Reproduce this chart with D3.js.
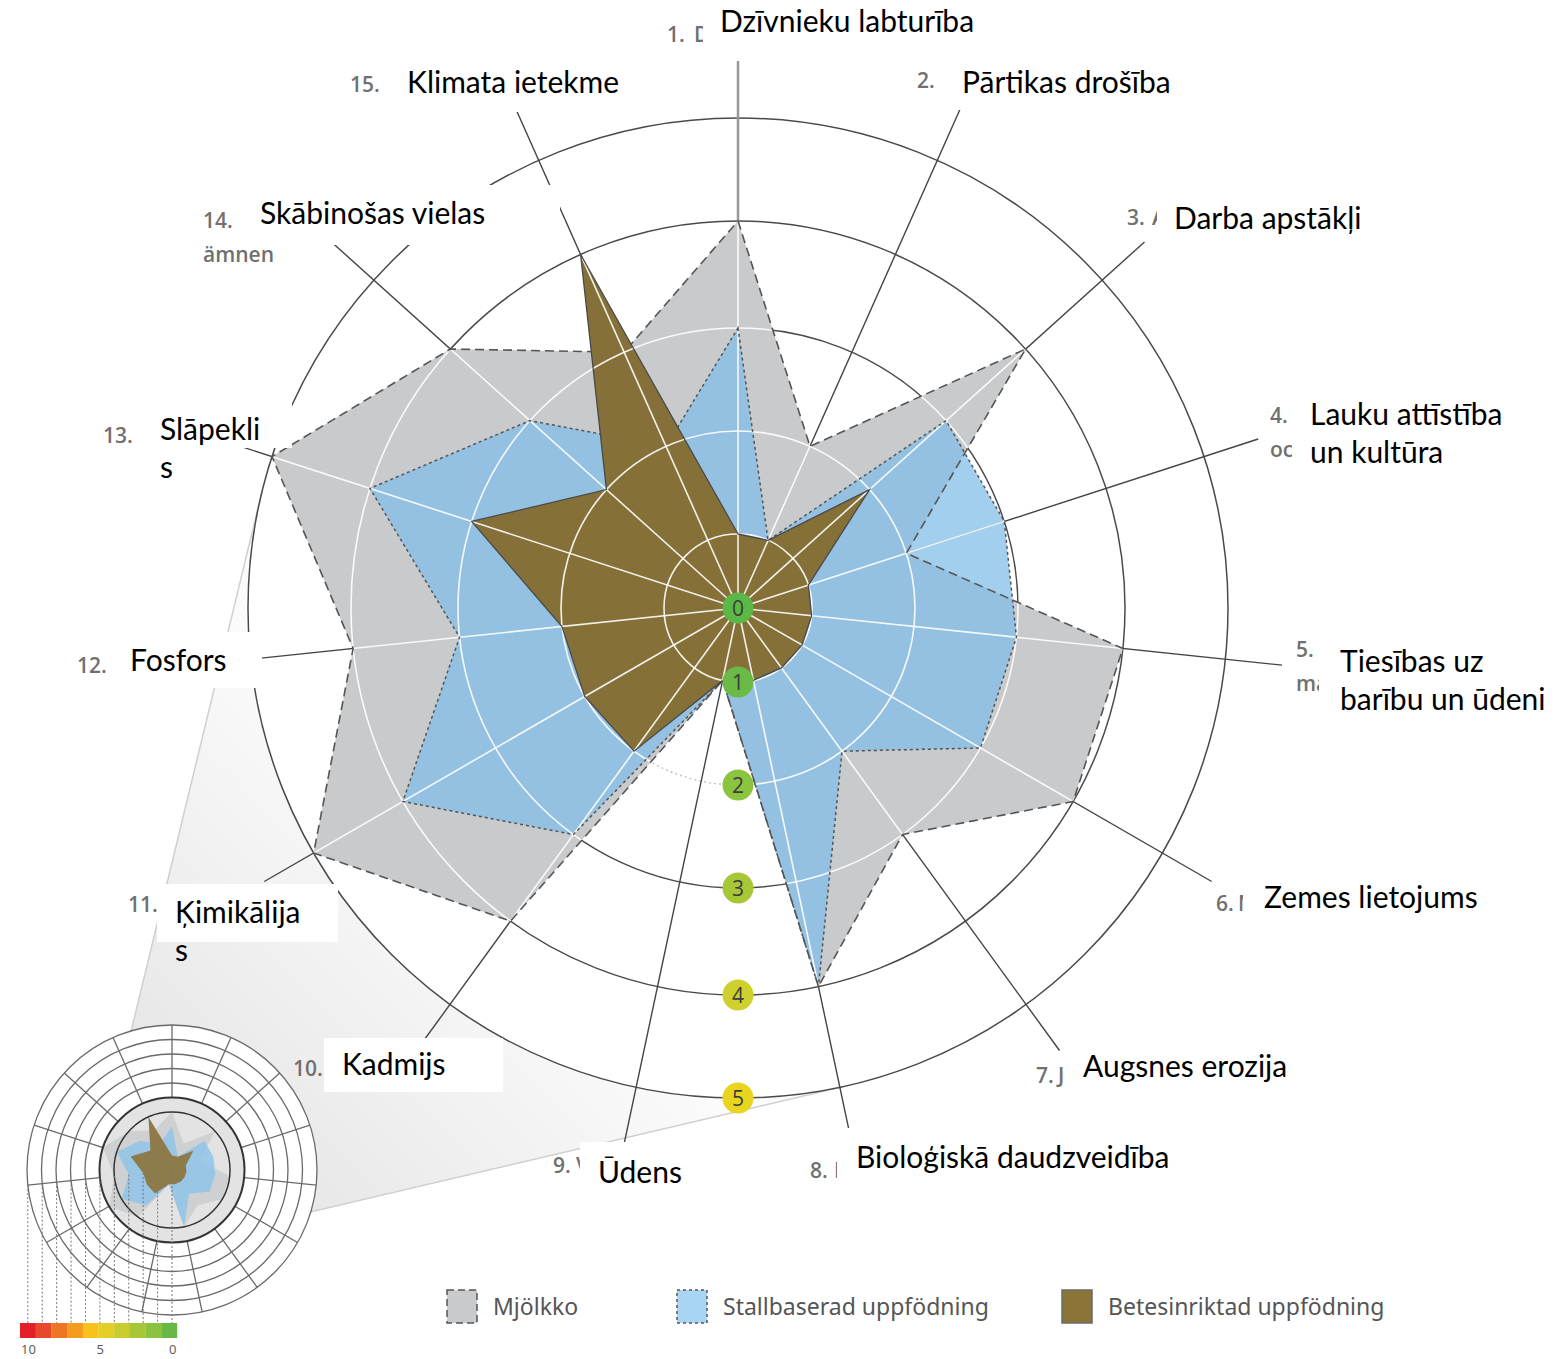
<!DOCTYPE html>
<html>
<head>
<meta charset="utf-8">
<script src="https://cdn.jsdelivr.net/npm/d3@7"></script>
<style>
body { margin: 0; background: #fff; }
svg { display: block; }
</style>
</head>
<body>
<svg id="chart" width="1557" height="1359"></svg>
<script>
// data
var axisNumbers = ["1.", "2.", "3.", "4.", "5.", "6.", "7.", "8.", "9.", "10.", "11.", "12.", "13.", "14.", "15."]
// bits of the old swedish labels that peek out from under the white boxes
var axisFragments = [["D"], [""], ["A"], ["", "oc"], ["", "ma"], ["M"], ["J"], ["B"], ["V"], [""], [""], [""], [""], ["", "ämnen"], [""]]
var axisLabels = [["Dzīvnieku labturība"], ["Pārtikas drošība"], ["Darba apstākļi"], ["Lauku attīstība", "un kultūra"],
  ["Tiesības uz", "barību un ūdeni"], ["Zemes lietojums"], ["Augsnes erozija"], ["Bioloģiskā daudzveidība"], ["Ūdens"],
  ["Kadmijs"], ["Ķimikālija", "s"], ["Fosfors"], ["Slāpekli", "s"], ["Skābinošas vielas"], ["Klimata ietekme"]]
var seriesNames = ["Mjölkko", "Stallbaserad uppfödning", "Betesinriktad uppfödning"]
var mjolkko = [4, 2, 4, 2, 4, 4, 3, 4, 1, 4, 5, 4, 5, 4, 3]
var stallbaserad = [3, 1, 3, 3, 3, 3, 2, 4, 1, 3, 4, 3, 4, 3, 2]
var betesinriktad = [1, 1, 2, 1, 1, 1, 1, 1, 1, 2, 2, 2, 3, 2, 4]
var ringTicks = [0, 1, 2, 3, 4, 5]
var scaleTicks = [10, 5, 0]

// layout
var cx = 738, cy = 608
var n = axisNumbers.length
var step = 2 * Math.PI / n
var svg = d3.select("#chart")

var r = d3.scaleLinear().domain([0, 1, 2, 3, 4, 5]).range([0, 74, 177, 280, 387, 490])
var ix = 172, iy = 1170
var ri = d3.scaleLinear().domain([0, 10]).range([0, 145])

var tickColor = d3.scaleLinear().domain([0, 1, 2, 3, 4, 5]).range(["#5cb846", "#6aba45", "#8bc43f", "#a7c739", "#cdd02d", "#e9d41f"])
var barColors = ["#e31e24", "#e8482b", "#ee7524", "#f49c20", "#f9c11c", "#e3cf27", "#c8cc2f", "#a8c637", "#8bc23e", "#68b845"]

function pt(i, rad, x0, y0) {
  return [x0 + rad * Math.sin(i * step), y0 - rad * Math.cos(i * step)]
}

// magnifier wedge between the inset and the main chart
var d = Math.hypot(ix - cx, iy - cy)
var ux = (ix - cx) / d, uy = (iy - cy) / d
var c = (r(5) - ri(5)) / d, s = Math.sqrt(1 - c * c)
var tang = [1, -1].map(function(sg) {
  var nx = c * ux + sg * s * (-uy), ny = c * uy + sg * s * ux
  return [[cx + r(5) * nx, cy + r(5) * ny], [ix + ri(5) * nx, iy + ri(5) * ny]]
})
var defs = svg.append("defs")
var grad = defs.append("linearGradient").attr("id", "wedge").attr("gradientUnits", "userSpaceOnUse")
  .attr("x1", cx).attr("y1", cy).attr("x2", ix).attr("y2", iy)
grad.append("stop").attr("offset", "0.45").attr("stop-color", "#fbfbfb")
grad.append("stop").attr("offset", "1").attr("stop-color", "#e4e4e4")
svg.append("path")
  .attr("d", "M" + tang[0][0] + "L" + tang[0][1] + "L" + tang[1][1] + "L" + tang[1][0] + "Z")
  .attr("fill", "url(#wedge)")
tang.forEach(function(t) {
  svg.append("line").attr("x1", t[0][0]).attr("y1", t[0][1]).attr("x2", t[1][0]).attr("y2", t[1][1])
    .attr("stroke", "#cfcfcf").attr("stroke-width", 1.5)
})

var g = svg.append("g").attr("transform", "translate(" + cx + "," + cy + ")")
g.append("circle").attr("r", r(5)).attr("fill", "#fff")

// dark grid under the polygons
g.append("circle").attr("r", r(2)).attr("fill", "none").attr("stroke", "#c4c4c4")
  .attr("stroke-width", 1.5).attr("stroke-dasharray", "2,3")
g.selectAll(".ring").data([3, 4, 5]).enter().append("circle")
  .attr("r", d => r(d)).attr("fill", "none").attr("stroke", "#4a4a4a").attr("stroke-width", 1.5)
g.selectAll(".spoke").data(d3.range(n)).enter().append("line")
  .attr("x2", i => pt(i, 547, 0, 0)[0]).attr("y2", i => pt(i, 547, 0, 0)[1])
  .attr("stroke", i => i == 0 ? "#999" : "#444").attr("stroke-width", i => i == 0 ? 2.5 : 1.4)

var radial = d3.lineRadial().angle((d, i) => i * step).radius(d => r(d)).curve(d3.curveLinearClosed)

var clipAll = defs.append("clipPath").attr("id", "clipAll")
;[mjolkko, stallbaserad, betesinriktad].forEach(function(v) {
  clipAll.append("path").attr("d", radial(v)).attr("transform", "translate(" + cx + "," + cy + ")")
})
defs.append("clipPath").attr("id", "clipBrown").append("path").attr("d", radial(betesinriktad))
  .attr("transform", "translate(" + cx + "," + cy + ")")

function whiteGrid(clip) {
  var wg = svg.append("g").attr("clip-path", "url(#" + clip + ")")
    .append("g").attr("transform", "translate(" + cx + "," + cy + ")")
  wg.selectAll("circle").data([1, 2, 3, 4, 5]).enter().append("circle")
    .attr("r", d => r(d)).attr("fill", "none").attr("stroke", "#fff").attr("stroke-width", 1.6).attr("opacity", 0.9)
  wg.selectAll("line").data(d3.range(n)).enter().append("line")
    .attr("x2", i => pt(i, 500, 0, 0)[0]).attr("y2", i => pt(i, 500, 0, 0)[1])
    .attr("stroke", "#fff").attr("stroke-width", 1.6).attr("opacity", 0.9)
}

g.append("path").attr("d", radial(mjolkko)).attr("fill", "#c9cacc")
g.append("path").attr("d", radial(stallbaserad)).attr("fill", "#80bde9").attr("fill-opacity", 0.72)
whiteGrid("clipAll")
var g2 = svg.append("g").attr("transform", "translate(" + cx + "," + cy + ")")
g2.append("path").attr("d", radial(mjolkko)).attr("fill", "none")
  .attr("stroke", "#555").attr("stroke-width", 1.6).attr("stroke-dasharray", "9,5")
g2.append("path").attr("d", radial(stallbaserad)).attr("fill", "none")
  .attr("stroke", "#555").attr("stroke-width", 1.5).attr("stroke-dasharray", "3,3")
g2.append("path").attr("d", radial(betesinriktad)).attr("fill", "#85713b")
whiteGrid("clipBrown")
svg.append("path").attr("d", radial(betesinriktad)).attr("transform", "translate(" + cx + "," + cy + ")")
  .attr("fill", "none").attr("stroke", "#4a4a4a").attr("stroke-width", 1.3)

// value markers along the bottom
var marks = svg.append("g").selectAll("g").data(ringTicks).enter().append("g")
  .attr("transform", d => "translate(" + cx + "," + (cy + r(d)) + ")")
marks.append("circle").attr("r", 15.5).attr("fill", d => tickColor(d))
marks.append("text").text(d => d).attr("text-anchor", "middle").attr("dy", "0.36em")
  .style("font", "21px 'Open Sans', sans-serif").attr("fill", "#3d3d3d")

// inset
var inset = svg.append("g").attr("transform", "translate(" + ix + "," + iy + ")")
inset.append("circle").attr("r", ri(10)).attr("fill", "#fff")
inset.append("circle").attr("r", ri(5)).attr("fill", "#e3e3e3")
var iradial = d3.lineRadial().angle((d, i) => i * step).radius(d => ri(d)).curve(d3.curveLinearClosed)
inset.append("path").attr("d", iradial(mjolkko)).attr("fill", "#cfd0d2")
inset.append("path").attr("d", iradial(stallbaserad)).attr("fill", "#8cc3ea").attr("fill-opacity", 0.8)
inset.append("path").attr("d", iradial(betesinriktad)).attr("fill", "#8d7b4b")
inset.selectAll(".sp").data(d3.range(n)).enter().append("line")
  .attr("x1", i => pt(i, ri(5), 0, 0)[0]).attr("y1", i => pt(i, ri(5), 0, 0)[1])
  .attr("x2", i => pt(i, ri(10), 0, 0)[0]).attr("y2", i => pt(i, ri(10), 0, 0)[1])
  .attr("stroke", "#6a6a6a").attr("stroke-width", 1.3)
inset.selectAll(".rg").data([6, 7, 8, 9, 10]).enter().append("circle")
  .attr("r", d => ri(d)).attr("fill", "none").attr("stroke", "#6a6a6a").attr("stroke-width", 1.3)
inset.selectAll(".rd").data([4, 5]).enter().append("circle")
  .attr("r", d => ri(d)).attr("fill", "none").attr("stroke", "#333").attr("stroke-width", d => d == 5 ? 2 : 1.5)

// dashed drop lines to the colour scale
var bar = d3.scaleLinear().domain([10, 0]).range([28, 173])
inset.selectAll(".drop").data(d3.range(11)).enter().append("line")
  .attr("x1", k => pt(11, ri(k), 0, 0)[0]).attr("y1", k => pt(11, ri(k), 0, 0)[1])
  .attr("x2", k => pt(11, ri(k), 0, 0)[0]).attr("y2", 1323 - iy)
  .attr("stroke", "#777").attr("stroke-width", 1).attr("stroke-dasharray", "2,2")
svg.append("g").selectAll("rect").data(barColors).enter().append("rect")
  .attr("x", (c, k) => 20 + k * 15.7).attr("y", 1323).attr("width", 15.9).attr("height", 15).attr("fill", c => c)
svg.append("g").selectAll("text").data(scaleTicks).enter().append("text")
  .attr("x", v => v == 10 ? 21 : bar(v) - 4).attr("y", 1354).text(v => v)
  .style("font", "13px 'Open Sans', sans-serif").attr("fill", "#555")

// axis labels: grey number, white box, latvian text
var labelPos = [
  {nx: 667, ny: 42, cut: 9, tx: 720, ty: 32, box: [703, 0, 995, 55]},
  {nx: 917, ny: 88, cut: 0, tx: 962, ty: 93, box: [945, 58, 1195, 110]},
  {nx: 1127, ny: 225, cut: 5, tx: 1174, ty: 229, box: [1157, 192, 1385, 245]},
  {nx: 1270, ny: 423, cut: 20, tx: 1310, ty: 425, box: [1292, 385, 1550, 478]},
  {nx: 1296, ny: 657, cut: 22, tx: 1340, ty: 672, box: [1319, 634, 1557, 724]},
  {nx: 1216, ny: 911, cut: 5, tx: 1264, ty: 908, box: [1243, 870, 1505, 930]},
  {nx: 1036, ny: 1083, cut: 8, tx: 1083, ty: 1077, box: [1066, 1040, 1310, 1100]},
  {nx: 810, ny: 1178, cut: 3, tx: 856, ty: 1168, box: [837, 1128, 1200, 1195]},
  {nx: 553, ny: 1173, cut: 4, tx: 598, ty: 1183, box: [580, 1142, 700, 1200]},
  {nx: 293, ny: 1076, cut: 0, tx: 342, ty: 1075, box: [324, 1038, 503, 1092]},
  {nx: 128, ny: 912, cut: 0, tx: 175, ty: 923, box: [157, 884, 338, 942]},
  {nx: 77, ny: 673, cut: 0, tx: 130, ty: 671, box: [118, 632, 262, 688]},
  {nx: 103, ny: 443, cut: 0, tx: 160, ty: 440, box: [148, 403, 292, 448]},
  {nx: 203, ny: 228, cut: 0, tx: 260, ty: 224, box: [246, 185, 560, 245]},
  {nx: 350, ny: 92, cut: 0, tx: 407, ty: 93, box: [391, 55, 640, 112]}
]
var numFont = "600 21px 'Open Sans', sans-serif"
var labels = svg.append("g").selectAll("g").data(labelPos).enter().append("g")
labels.each(function(p, i) {
  var el = d3.select(this)
  el.append("text").attr("x", p.nx).attr("y", p.ny).text(axisNumbers[i])
    .style("font", numFont).attr("fill", "#707070")
  axisFragments[i].forEach(function(f, j) {
    if (!f) return
    el.append("text").attr("x", j == 0 ? p.box[0] - p.cut : p.nx).attr("y", p.ny + j * 34).text(f)
      .style("font", numFont).attr("fill", "#707070")
  })
  el.append("rect").attr("x", p.box[0]).attr("y", p.box[1])
    .attr("width", p.box[2] - p.box[0]).attr("height", p.box[3] - p.box[1]).attr("fill", "#fff")
  axisLabels[i].forEach(function(line, j) {
    el.append("text").attr("x", p.tx).attr("y", p.ty + j * 38).text(line)
      .style("font", "30px Lato, sans-serif").attr("fill", "#000")
  })
})

// legend
var legendX = [447, 677, 1062]
var legend = svg.append("g").selectAll("g").data(seriesNames).enter().append("g")
  .attr("transform", (d, i) => "translate(" + legendX[i] + ",1290)")
legend.append("rect").attr("width", 30).attr("height", 33)
  .attr("fill", (d, i) => ["#c9cacc", "#a9d5f4", "#8a7436"][i])
  .attr("stroke", (d, i) => i == 2 ? "#6b6b6b" : "#555").attr("stroke-width", 1.5)
  .attr("stroke-dasharray", (d, i) => ["7,4", "3,3", null][i])
legend.append("text").attr("x", 46).attr("y", 25).text(d => d)
  .style("font", "23px 'Noto Sans', sans-serif").attr("fill", "#555")
</script>
</body>
</html>
